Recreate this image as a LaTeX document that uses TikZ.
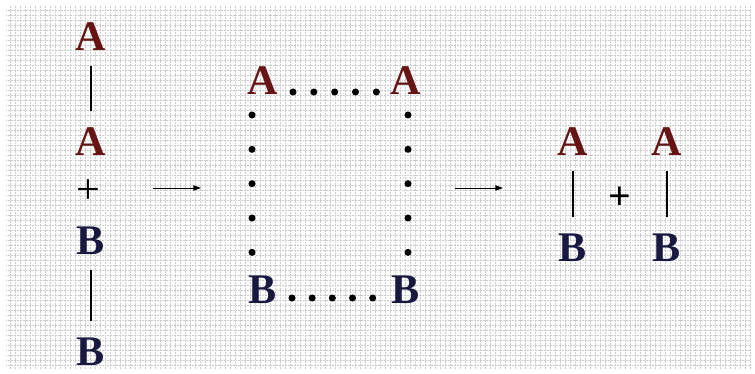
\documentclass[tikz,border=0pt]{standalone}
\usepackage{fontspec}
\setmainfont{Liberation Serif}
\usetikzlibrary{arrows.meta, positioning, calc}
\definecolor{letterA}{HTML}{661414}
\definecolor{letterB}{HTML}{181840}

\begin{document}
\begin{tikzpicture}[x=0.03cm, y=-0.03cm,
  letter/.style={font=\fontsize{36}{36}\selectfont\bfseries, inner sep=0pt, text height=23.6pt, text depth=0pt},
  atom A/.style={letter, text=letterA},
  atom B/.style={letter, text=letterB},
  bond/.style={line width=1.7pt, shorten <=0.45cm, shorten >=0.5cm},
  dotrow/.style={line width=6pt, line cap=round, dash pattern=on 0pt off 0.625cm},
  dotcol/.style={line width=6pt, line cap=round, dash pattern=on 0pt off 1.03cm},
  flow/.style={line width=0.8pt, -{Triangle[length=6.5pt, width=4.5pt]}},
  gridline/.style={gray!40, line width=0.3pt, dash pattern=on 0.5pt off 0.8pt}]
\useasboundingbox[fill=white] (0,0) rectangle (755,374);
\draw[gridline, xstep=0.15cm, ystep=0.15cm] (6,6) grid (750,369);

% left column
\node[atom A] (la1) at (91,37) {A};
\node[atom A] (la2) at (91,142) {A};
\node[font=\fontsize{36}{36}\selectfont] (lplus) at (88,192) {+};
\node[atom B] (lb1) at (91,241) {B};
\node[atom B] (lb2) at (91,352) {B};
\draw[bond] (la1) -- (la2);
\draw[bond] (lb1) -- (lb2);

\coordinate (s1) at (153,188);
\coordinate (e1) at (201,188);
\draw[flow] (s1) -- (e1);

% square
\node[atom A] (tl) at (263,81) {A};
\node[atom A] (tr) at (406,81) {A};
\node[atom B] (bl) at (263,290) {B};
\node[atom B] (br) at (406,290) {B};
\draw[dotrow, shorten <=0.9cm, shorten >=0.87cm] ([yshift=-0.33cm]tl.center) -- ([yshift=-0.33cm]tr.center);
\draw[dotrow, shorten <=0.87cm, shorten >=0.96cm, dash pattern=on 0pt off 0.605cm] ([yshift=-0.24cm]bl.center) -- ([yshift=-0.24cm]br.center);
\draw[dotcol, shorten <=1.02cm, shorten >=1.11cm] ([xshift=-0.33cm]tl.center) -- ([xshift=-0.33cm]bl.center);
\draw[dotcol, shorten <=1.02cm, shorten >=1.11cm] ([xshift=0.06cm]tr.center) -- ([xshift=0.06cm]br.center);

\coordinate (s2) at (455,188);
\coordinate (e2) at (503,188);
\draw[flow] (s2) -- (e2);

% right pair
\node[atom A] (ra1) at (573,142) {A};
\node[atom B] (rb1) at (573,248) {B};
\node[atom A] (ra2) at (667,142) {A};
\node[atom B] (rb2) at (667,248) {B};
\node[font=\fontsize{34}{34}\selectfont\bfseries] (rplus) at (620,198) {+};
\draw[bond] (ra1) -- (rb1);
\draw[bond] (ra2) -- (rb2);
\end{tikzpicture}
\end{document}
